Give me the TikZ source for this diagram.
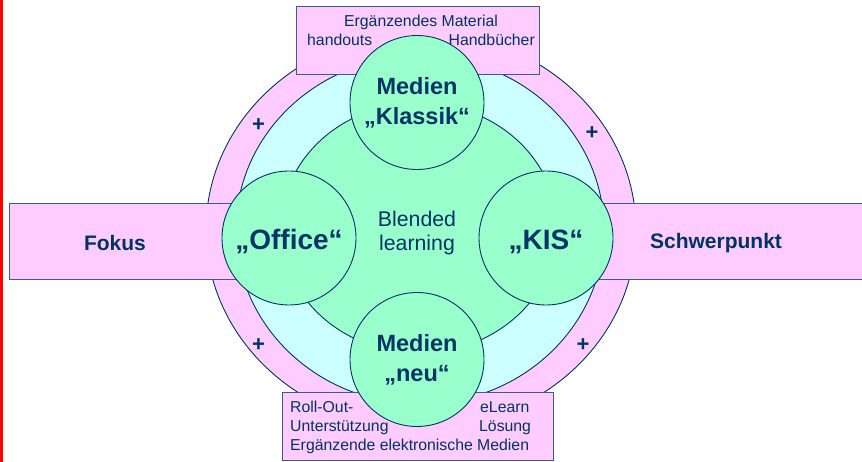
\documentclass[tikz,border=0pt]{standalone}
\usepackage{fontspec}
\setmainfont{Liberation Sans}
\usetikzlibrary{shapes.geometric}
\definecolor{navy}{RGB}{0,51,102}
\definecolor{rim}{RGB}{60,90,140}
\definecolor{rose}{RGB}{255,204,255}
\definecolor{aqua}{RGB}{204,255,255}
\definecolor{mint}{RGB}{153,255,204}
\tikzset{
  disc/.style={ellipse, draw=navy, line width=0.9pt, inner sep=0pt},
  panel/.style={rectangle, draw=rim, fill=rose, line width=0.9pt, inner sep=0pt},
  bubble/.style={circle, draw=navy, fill=mint, line width=0.9pt, minimum size=134pt, inner sep=0pt, align=center, text=navy, font=\bfseries\fontsize{23.5}{30}\selectfont},
  bigbubble/.style={bubble, font=\bfseries\fontsize{28}{30}\selectfont, text height=24pt, text depth=0pt},
  boxtext/.style={text=navy, font=\fontsize{15.8}{19}\selectfont, inner sep=0pt},
  sidetext/.style={text=navy, font=\bfseries\fontsize{21}{25}\selectfont, inner sep=0pt},
  plus/.style={text=navy, font=\bfseries\fontsize{22}{22}\selectfont, inner sep=0pt},
}

\begin{document}
\begin{tikzpicture}[x=1pt, y=-1pt]
\useasboundingbox (0,0) rectangle (862,462);
\fill[red] (0,0) rectangle (2.5,462);

\node[disc, fill=rose, minimum width=430pt, minimum height=396pt] (ring) at (421,230) {};
\node[disc, fill=aqua, minimum width=368pt, minimum height=348pt] (sky) at (420,230) {};
\node[disc, fill=mint, minimum width=276pt, minimum height=250pt] (core) at (419,228) {};

\node[panel, minimum width=241pt, minimum height=76pt] (leftbar) at (129.5,241) {};
\node[panel, minimum width=300pt, minimum height=76pt] (rightbar) at (720,241) {};
\node[panel, minimum width=243pt, minimum height=68pt] (topbox) at (417.5,40) {};
\node[panel, minimum width=271pt, minimum height=68pt] (botbox) at (417.5,426) {};

\node[boxtext, anchor=base] (material) at (421,27) {Ergänzendes Material};
\node[boxtext, anchor=base west] (handouts) at (307,45.5) {handouts};
\node[boxtext, anchor=base east] (handbuch) at (535,45.5) {Handbücher};
\node[boxtext, anchor=base west] (rollout) at (290,412) {Roll-Out-};
\node[boxtext, anchor=base west] (support) at (290,431) {Unterstützung};
\node[boxtext, anchor=base west] (elearn) at (480,412) {eLearn};
\node[boxtext, anchor=base west] (loesung) at (479,431) {Lösung};
\node[boxtext, anchor=base west] (elektro) at (290,450) {Ergänzende elektronische Medien};

\node[sidetext] (fokus) at (115,243) {Fokus};
\node[sidetext] (schwer) at (716,243) {Schwerpunkt};
\node[text=navy, align=center, inner sep=0pt, font=\fontsize{21.3}{23.5}\selectfont] (blended) at (417,233) {Blended\\learning};

\node[bubble] (klassik) at (417,102.5) {Medien\\„Klassik“};
\node[bubble] (neu) at (417,359.5) {Medien\\„neu“};
\node[bigbubble] (office) at (289,238) {„Office“};
\node[bigbubble] (kis) at (546,238) {„KIS“};

\node[plus] (plusnw) at (258.5,125) {+};
\node[plus] (plusne) at (592,133) {+};
\node[plus] (plussw) at (258.5,345) {+};
\node[plus] (plusse) at (583,345) {+};
\end{tikzpicture}
\end{document}
